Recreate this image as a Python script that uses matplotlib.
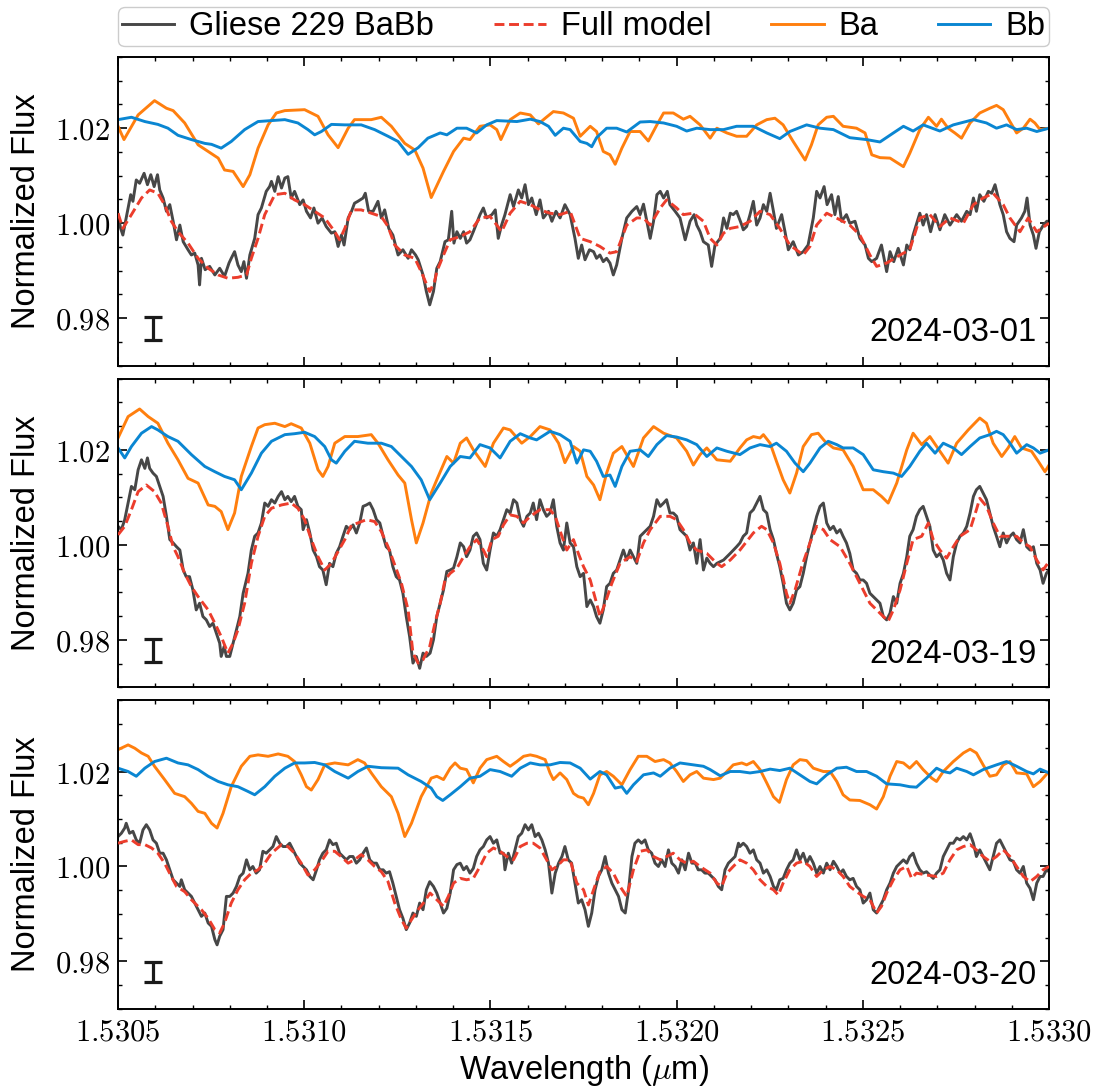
import matplotlib
matplotlib.use("Agg")
import matplotlib.pyplot as plt
from matplotlib.ticker import MultipleLocator, FuncFormatter

plt.rcParams['font.family'] = ['Liberation Sans', 'DejaVu Sans']
plt.rcParams['mathtext.fontset'] = 'cm'

# ---------------- data: panel 1 (2024-03-01) ----------------
obs_wl_1 = [1.530500,1.530507,1.530513,1.530522,1.530534,1.530540,1.530549,1.530558,1.530570,1.530579,1.530588,1.530597,1.530606,1.530612,1.530621,1.530630,1.530639,1.530648,1.530657,1.530666,1.530675,1.530688,1.530697,1.530706,1.530715,1.530719,1.530724,1.530734,1.530746,1.530760,1.530773,1.530786,1.530798,1.530804,1.530813,1.530822,1.530831,1.530838,1.530845,1.530854,1.530867,1.530876,1.530885,1.530898,1.530907,1.530912,1.530921,1.530930,1.530939,1.530948,1.530956,1.530965,1.530974,1.530988,1.530997,1.531006,1.531017,1.531026,1.531037,1.531048,1.531059,1.531073,1.531082,1.531091,1.531100,1.531107,1.531118,1.531127,1.531135,1.531144,1.531158,1.531164,1.531173,1.531185,1.531198,1.531207,1.531216,1.531227,1.531238,1.531252,1.531265,1.531279,1.531288,1.531299,1.531306,1.531319,1.531328,1.531337,1.531347,1.531356,1.531365,1.531378,1.531387,1.531396,1.531402,1.531410,1.531419,1.531428,1.531436,1.531445,1.531454,1.531472,1.531481,1.531490,1.531504,1.531513,1.531521,1.531530,1.531539,1.531553,1.531562,1.531575,1.531584,1.531593,1.531602,1.531611,1.531623,1.531633,1.531642,1.531656,1.531665,1.531676,1.531687,1.531700,1.531714,1.531727,1.531736,1.531745,1.531754,1.531766,1.531777,1.531785,1.531794,1.531803,1.531812,1.531821,1.531830,1.531839,1.531853,1.531866,1.531880,1.531893,1.531902,1.531911,1.531920,1.531929,1.531938,1.531947,1.531956,1.531965,1.531975,1.531982,1.531996,1.532009,1.532023,1.532036,1.532047,1.532054,1.532063,1.532072,1.532085,1.532094,1.532103,1.532117,1.532126,1.532135,1.532144,1.532152,1.532161,1.532175,1.532179,1.532188,1.532197,1.532206,1.532215,1.532224,1.532233,1.532242,1.532251,1.532260,1.532268,1.532282,1.532291,1.532300,1.532313,1.532327,1.532340,1.532353,1.532367,1.532376,1.532385,1.532396,1.532404,1.532416,1.532425,1.532434,1.532443,1.532456,1.532465,1.532479,1.532492,1.532506,1.532515,1.532524,1.532537,1.532550,1.532564,1.532573,1.532583,1.532595,1.532609,1.532618,1.532626,1.532635,1.532653,1.532662,1.532671,1.532682,1.532694,1.532707,1.532720,1.532734,1.532752,1.532765,1.532779,1.532788,1.532797,1.532805,1.532814,1.532825,1.532837,1.532846,1.532855,1.532868,1.532877,1.532886,1.532895,1.532906,1.532913,1.532926,1.532935,1.532941,1.532949,1.532958,1.532965,1.532974,1.532985,1.532994,1.533000]
obs_fx_1 = [1.0018,0.9989,0.9975,1.0011,1.0060,1.0046,1.0091,1.0084,1.0105,1.0081,1.0102,1.0077,1.0102,1.0070,1.0053,1.0025,1.0039,1.0004,0.9965,0.9996,0.9961,0.9944,0.9933,0.9937,0.9912,0.9870,0.9926,0.9902,0.9909,0.9891,0.9905,0.9888,0.9916,0.9926,0.9940,0.9912,0.9898,0.9919,0.9884,0.9933,0.9968,1.0018,1.0032,1.0067,1.0077,1.0088,1.0067,1.0098,1.0074,1.0095,1.0098,1.0053,1.0067,1.0039,1.0049,1.0025,1.0011,1.0032,1.0000,1.0011,0.9993,0.9979,0.9982,0.9951,0.9975,0.9954,1.0011,1.0025,1.0042,1.0046,1.0053,1.0063,1.0025,1.0025,1.0046,1.0011,1.0028,0.9989,0.9975,0.9933,0.9944,0.9926,0.9944,0.9933,0.9923,0.9891,0.9856,0.9828,0.9856,0.9905,0.9919,0.9961,0.9965,1.0025,0.9958,0.9982,0.9968,0.9982,0.9958,0.9965,0.9982,1.0018,1.0032,1.0011,1.0018,1.0028,0.9968,0.9996,1.0018,1.0060,1.0035,1.0070,1.0053,1.0081,1.0039,1.0053,1.0018,1.0049,1.0011,1.0025,1.0004,1.0025,1.0011,1.0039,1.0018,0.9968,0.9926,0.9954,0.9923,0.9944,0.9940,0.9926,0.9933,0.9919,0.9926,0.9916,0.9891,0.9912,0.9968,1.0011,1.0025,1.0035,1.0018,1.0040,1.0004,0.9968,1.0004,1.0060,1.0067,1.0053,1.0067,1.0039,1.0025,1.0011,0.9965,1.0004,1.0018,0.9996,0.9982,0.9961,0.9954,0.9909,0.9954,0.9968,1.0011,0.9989,1.0021,1.0018,1.0025,0.9996,0.9986,0.9993,1.0018,1.0046,0.9996,1.0011,1.0039,1.0025,1.0063,1.0025,0.9989,1.0018,0.9982,0.9944,0.9961,0.9933,0.9940,0.9954,1.0011,1.0067,1.0053,1.0077,1.0039,1.0060,1.0018,1.0056,1.0004,1.0018,1.0000,1.0004,0.9968,0.9954,0.9926,0.9919,0.9926,0.9954,0.9898,0.9940,0.9919,0.9947,0.9912,0.9954,0.9944,0.9975,1.0021,0.9996,1.0018,0.9982,1.0018,0.9986,1.0018,0.9996,1.0018,1.0004,1.0025,1.0018,1.0053,1.0025,1.0060,1.0046,1.0067,1.0063,1.0081,1.0039,1.0018,0.9982,0.9968,0.9961,0.9996,1.0011,1.0025,1.0053,0.9996,0.9975,0.9947,0.9982,0.9996,1.0004,1.0004]

mod_wl_1 = [1.530500,1.530513,1.530536,1.530563,1.530585,1.530607,1.530625,1.530643,1.530661,1.530688,1.530715,1.530742,1.530769,1.530795,1.530822,1.530845,1.530858,1.530876,1.530894,1.530921,1.530948,1.530974,1.531001,1.531028,1.531055,1.531082,1.531095,1.531109,1.531127,1.531153,1.531180,1.531207,1.531225,1.531243,1.531270,1.531297,1.531314,1.531337,1.531350,1.531356,1.531374,1.531392,1.531419,1.531445,1.531472,1.531499,1.531517,1.531530,1.531553,1.531580,1.531607,1.531633,1.531660,1.531687,1.531714,1.531741,1.531768,1.531794,1.531821,1.531839,1.531866,1.531893,1.531911,1.531929,1.531956,1.531973,1.532000,1.532018,1.532045,1.532072,1.532090,1.532108,1.532126,1.532144,1.532170,1.532197,1.532224,1.532251,1.532277,1.532304,1.532340,1.532358,1.532376,1.532403,1.532439,1.532465,1.532492,1.532519,1.532537,1.532564,1.532600,1.532626,1.532653,1.532680,1.532707,1.532734,1.532770,1.532797,1.532823,1.532850,1.532877,1.532895,1.532922,1.532944,1.532967,1.533000]
mod_fx_1 = [1.0021,0.9989,1.0018,1.0053,1.0070,1.0063,1.0039,1.0004,0.9982,0.9958,0.9926,0.9905,0.9891,0.9884,0.9886,0.9891,0.9926,0.9968,1.0018,1.0060,1.0063,1.0049,1.0039,1.0025,1.0011,0.9982,0.9965,0.9989,1.0028,1.0028,1.0021,1.0014,0.9993,0.9954,0.9933,0.9926,0.9898,0.9856,0.9877,0.9898,0.9933,0.9965,0.9972,0.9982,1.0011,1.0014,0.9996,0.9982,1.0021,1.0046,1.0039,1.0028,1.0021,1.0018,1.0025,0.9968,0.9961,0.9951,0.9937,0.9940,0.9996,1.0011,1.0011,0.9996,1.0032,1.0049,1.0032,1.0018,1.0021,1.0004,0.9968,0.9954,0.9979,0.9989,0.9993,1.0004,1.0025,1.0018,0.9989,0.9954,0.9933,0.9951,0.9996,1.0021,1.0007,0.9996,0.9975,0.9933,0.9909,0.9916,0.9933,0.9944,1.0011,1.0018,0.9993,1.0011,1.0000,1.0039,1.0053,1.0063,1.0039,1.0011,0.9982,1.0011,0.9982,1.0000]

ba_wl_1 = [1.530500,1.530516,1.530554,1.530598,1.530630,1.530648,1.530679,1.530715,1.530742,1.530769,1.530786,1.530809,1.530836,1.530854,1.530876,1.530903,1.530925,1.530948,1.531001,1.531037,1.531064,1.531091,1.531118,1.531135,1.531180,1.531207,1.531234,1.531270,1.531297,1.531319,1.531341,1.531374,1.531401,1.531428,1.531445,1.531472,1.531499,1.531517,1.531528,1.531553,1.531580,1.531607,1.531629,1.531647,1.531669,1.531696,1.531723,1.531741,1.531768,1.531785,1.531803,1.531821,1.531835,1.531853,1.531875,1.531902,1.531924,1.531947,1.531965,1.531991,1.532018,1.532036,1.532063,1.532090,1.532108,1.532135,1.532161,1.532188,1.532215,1.532242,1.532264,1.532286,1.532313,1.532345,1.532362,1.532380,1.532403,1.532421,1.532447,1.532483,1.532506,1.532524,1.532546,1.532573,1.532591,1.532609,1.532626,1.532653,1.532676,1.532698,1.532711,1.532729,1.532747,1.532765,1.532788,1.532814,1.532841,1.532859,1.532877,1.532895,1.532913,1.532931,1.532949,1.532962,1.532976,1.533000]
ba_fx_1 = [1.0204,1.0176,1.0228,1.0258,1.0242,1.0237,1.0211,1.0165,1.0151,1.0137,1.0112,1.0109,1.0077,1.0102,1.0158,1.0207,1.0232,1.0237,1.0239,1.0225,1.0186,1.0159,1.0200,1.0218,1.0218,1.0223,1.0204,1.0168,1.0154,1.0116,1.0054,1.0109,1.0151,1.0179,1.0176,1.0204,1.0207,1.0197,1.0176,1.0218,1.0232,1.0228,1.0209,1.0221,1.0235,1.0232,1.0221,1.0183,1.0204,1.0193,1.0151,1.0144,1.0124,1.0158,1.0193,1.0193,1.0173,1.0207,1.0232,1.0232,1.0219,1.0225,1.0207,1.0179,1.0200,1.0190,1.0183,1.0183,1.0207,1.0218,1.0221,1.0207,1.0172,1.0133,1.0165,1.0207,1.0223,1.0225,1.0204,1.0200,1.0190,1.0144,1.0138,1.0137,1.0128,1.0119,1.0147,1.0197,1.0223,1.0204,1.0219,1.0200,1.0190,1.0179,1.0211,1.0232,1.0242,1.0248,1.0239,1.0214,1.0190,1.0200,1.0219,1.0211,1.0197,1.0200]

bb_wl_1 = [1.530500,1.530536,1.530572,1.530607,1.530634,1.530661,1.530697,1.530733,1.530751,1.530777,1.530804,1.530840,1.530876,1.530912,1.530948,1.530983,1.531010,1.531028,1.531046,1.531073,1.531109,1.531153,1.531189,1.531225,1.531252,1.531279,1.531306,1.531332,1.531365,1.531383,1.531410,1.531436,1.531463,1.531490,1.531517,1.531571,1.531607,1.531633,1.531656,1.531674,1.531696,1.531714,1.531741,1.531759,1.531772,1.531785,1.531812,1.531839,1.531866,1.531902,1.531929,1.531965,1.532000,1.532027,1.532054,1.532090,1.532126,1.532161,1.532206,1.532242,1.532277,1.532304,1.532349,1.532385,1.532421,1.532465,1.532510,1.532546,1.532582,1.532609,1.532635,1.532662,1.532707,1.532743,1.532797,1.532832,1.532859,1.532886,1.532913,1.532940,1.532967,1.533000]
bb_fx_1 = [1.0218,1.0223,1.0214,1.0208,1.0200,1.0185,1.0176,1.0168,1.0166,1.0158,1.0172,1.0197,1.0214,1.0216,1.0218,1.0211,1.0197,1.0186,1.0193,1.0208,1.0207,1.0207,1.0197,1.0183,1.0172,1.0145,1.0159,1.0179,1.0190,1.0186,1.0200,1.0200,1.0190,1.0207,1.0216,1.0214,1.0219,1.0214,1.0204,1.0185,1.0200,1.0197,1.0172,1.0168,1.0161,1.0180,1.0200,1.0200,1.0192,1.0213,1.0214,1.0211,1.0204,1.0194,1.0200,1.0197,1.0197,1.0204,1.0204,1.0190,1.0178,1.0193,1.0207,1.0200,1.0197,1.0180,1.0176,1.0171,1.0190,1.0204,1.0194,1.0207,1.0194,1.0207,1.0218,1.0211,1.0200,1.0207,1.0197,1.0200,1.0193,1.0200]

# ---------------- data: panel 2 (2024-03-19) ----------------
obs_wl_2 = [1.530500,1.530509,1.530518,1.530527,1.530536,1.530545,1.530554,1.530563,1.530572,1.530579,1.530585,1.530594,1.530603,1.530612,1.530621,1.530630,1.530639,1.530648,1.530657,1.530666,1.530675,1.530683,1.530692,1.530701,1.530710,1.530719,1.530728,1.530737,1.530746,1.530755,1.530764,1.530773,1.530777,1.530785,1.530791,1.530800,1.530809,1.530818,1.530827,1.530836,1.530849,1.530858,1.530867,1.530876,1.530885,1.530894,1.530903,1.530912,1.530921,1.530930,1.530939,1.530948,1.530956,1.530965,1.530974,1.530983,1.530992,1.530997,1.531006,1.531015,1.531024,1.531033,1.531041,1.531050,1.531059,1.531068,1.531077,1.531086,1.531095,1.531104,1.531113,1.531122,1.531131,1.531140,1.531149,1.531158,1.531167,1.531176,1.531185,1.531194,1.531203,1.531212,1.531220,1.531229,1.531238,1.531247,1.531256,1.531265,1.531274,1.531283,1.531292,1.531301,1.531310,1.531319,1.531328,1.531338,1.531347,1.531356,1.531365,1.531374,1.531383,1.531392,1.531401,1.531410,1.531419,1.531428,1.531436,1.531445,1.531454,1.531463,1.531472,1.531481,1.531490,1.531499,1.531508,1.531517,1.531526,1.531535,1.531544,1.531553,1.531562,1.531571,1.531580,1.531589,1.531598,1.531607,1.531615,1.531624,1.531633,1.531642,1.531651,1.531660,1.531669,1.531678,1.531687,1.531696,1.531705,1.531714,1.531723,1.531732,1.531741,1.531750,1.531759,1.531768,1.531777,1.531785,1.531794,1.531803,1.531812,1.531821,1.531830,1.531839,1.531848,1.531857,1.531866,1.531875,1.531884,1.531893,1.531902,1.531911,1.531920,1.531929,1.531938,1.531947,1.531956,1.531965,1.531973,1.531982,1.531991,1.532000,1.532009,1.532018,1.532027,1.532036,1.532045,1.532054,1.532063,1.532072,1.532081,1.532090,1.532099,1.532108,1.532126,1.532144,1.532161,1.532170,1.532179,1.532188,1.532197,1.532206,1.532215,1.532224,1.532233,1.532242,1.532251,1.532260,1.532268,1.532277,1.532286,1.532295,1.532304,1.532313,1.532322,1.532331,1.532340,1.532349,1.532358,1.532367,1.532376,1.532385,1.532394,1.532403,1.532412,1.532421,1.532430,1.532439,1.532447,1.532456,1.532465,1.532474,1.532483,1.532492,1.532501,1.532510,1.532519,1.532528,1.532537,1.532546,1.532555,1.532564,1.532573,1.532582,1.532591,1.532600,1.532609,1.532618,1.532626,1.532635,1.532644,1.532653,1.532662,1.532671,1.532680,1.532689,1.532698,1.532707,1.532716,1.532725,1.532734,1.532743,1.532752,1.532761,1.532770,1.532779,1.532788,1.532797,1.532805,1.532814,1.532823,1.532832,1.532841,1.532850,1.532859,1.532868,1.532877,1.532886,1.532895,1.532904,1.532913,1.532922,1.532931,1.532940,1.532949,1.532958,1.532967,1.532976,1.532984,1.532993,1.533000]
obs_fx_2 = [1.0039,1.0032,1.0053,1.0088,1.0123,1.0116,1.0158,1.0179,1.0161,1.0183,1.0161,1.0151,1.0144,1.0123,1.0102,1.0060,1.0011,1.0004,0.9996,0.9989,0.9947,0.9933,0.9933,0.9905,0.9863,0.9877,0.9849,0.9842,0.9828,0.9835,0.9814,0.9793,0.9765,0.9786,0.9765,0.9765,0.9793,0.9821,0.9849,0.9898,0.9940,0.9989,1.0018,1.0025,1.0046,1.0088,1.0081,1.0095,1.0088,1.0102,1.0112,1.0095,1.0102,1.0091,1.0102,1.0081,1.0074,1.0032,1.0053,1.0025,0.9989,0.9975,0.9954,0.9947,0.9916,0.9961,0.9954,0.9982,0.9996,1.0018,1.0039,1.0032,1.0042,1.0025,1.0046,1.0081,1.0084,1.0088,1.0074,1.0053,1.0046,1.0018,0.9996,0.9989,0.9954,0.9933,0.9926,0.9898,0.9849,0.9807,0.9751,0.9765,0.9740,0.9772,0.9765,0.9772,0.9800,0.9849,0.9877,0.9905,0.9944,0.9947,0.9951,0.9975,1.0004,0.9996,0.9975,0.9989,1.0018,1.0025,1.0011,0.9961,0.9947,0.9989,1.0025,1.0018,1.0032,1.0053,1.0074,1.0067,1.0095,1.0088,1.0053,1.0039,1.0060,1.0067,1.0088,1.0053,1.0095,1.0074,1.0060,1.0067,1.0095,1.0039,1.0004,0.9989,1.0046,1.0004,0.9996,0.9954,0.9933,0.9940,0.9870,0.9884,0.9870,0.9849,0.9835,0.9863,0.9912,0.9919,0.9940,0.9947,0.9968,0.9989,0.9968,0.9989,0.9975,0.9961,1.0018,1.0025,1.0032,1.0039,1.0060,1.0095,1.0081,1.0088,1.0095,1.0067,1.0067,1.0060,1.0032,1.0025,1.0018,0.9989,1.0004,0.9961,1.0011,0.9947,0.9972,0.9961,0.9954,0.9961,0.9968,0.9982,0.9996,1.0004,1.0018,1.0025,1.0067,1.0074,1.0088,1.0102,1.0074,1.0067,1.0032,1.0011,0.9982,0.9954,0.9919,0.9877,0.9863,0.9877,0.9905,0.9912,0.9940,0.9975,1.0004,1.0032,1.0060,1.0081,1.0088,1.0046,1.0032,1.0039,1.0025,1.0032,1.0018,1.0004,0.9982,0.9947,0.9940,0.9926,0.9926,0.9919,0.9898,0.9891,0.9884,0.9877,0.9849,0.9842,0.9856,0.9891,0.9877,0.9919,0.9940,0.9975,1.0018,1.0032,1.0060,1.0074,1.0081,1.0060,1.0039,0.9989,0.9975,0.9982,0.9968,0.9940,0.9926,0.9975,1.0004,1.0018,1.0025,1.0039,1.0067,1.0102,1.0116,1.0123,1.0109,1.0095,1.0067,1.0039,1.0018,0.9996,1.0025,1.0004,1.0018,1.0025,1.0011,1.0004,1.0032,0.9996,0.9989,0.9996,0.9961,0.9947,0.9919,0.9940,0.9947]

mod_wl_2 = [1.530500,1.530518,1.530536,1.530554,1.530576,1.530598,1.530616,1.530634,1.530648,1.530661,1.530679,1.530697,1.530715,1.530742,1.530760,1.530777,1.530795,1.530809,1.530822,1.530840,1.530858,1.530876,1.530894,1.530912,1.530939,1.530965,1.530983,1.531001,1.531019,1.531037,1.531055,1.531073,1.531091,1.531109,1.531127,1.531144,1.531167,1.531189,1.531207,1.531225,1.531243,1.531261,1.531279,1.531292,1.531306,1.531319,1.531337,1.531351,1.531365,1.531378,1.531392,1.531410,1.531428,1.531445,1.531463,1.531481,1.531490,1.531504,1.531521,1.531535,1.531553,1.531571,1.531589,1.531607,1.531633,1.531660,1.531674,1.531692,1.531705,1.531723,1.531736,1.531750,1.531768,1.531785,1.531794,1.531808,1.531826,1.531848,1.531875,1.531893,1.531911,1.531929,1.531956,1.531982,1.532000,1.532018,1.532036,1.532054,1.532081,1.532108,1.532121,1.532144,1.532170,1.532188,1.532206,1.532228,1.532242,1.532260,1.532277,1.532295,1.532304,1.532318,1.532336,1.532358,1.532376,1.532394,1.532412,1.532439,1.532465,1.532492,1.532519,1.532546,1.532568,1.532582,1.532600,1.532618,1.532635,1.532658,1.532676,1.532689,1.532707,1.532725,1.532743,1.532761,1.532788,1.532805,1.532814,1.532832,1.532850,1.532868,1.532886,1.532913,1.532931,1.532949,1.532967,1.532984,1.533000]
mod_fx_2 = [1.0021,1.0039,1.0074,1.0112,1.0126,1.0112,1.0088,1.0039,0.9996,0.9975,0.9940,0.9912,0.9891,0.9863,0.9835,0.9807,0.9772,0.9793,0.9821,0.9877,0.9961,1.0018,1.0060,1.0077,1.0084,1.0088,1.0077,1.0053,1.0011,0.9975,0.9947,0.9961,0.9986,1.0011,1.0042,1.0046,1.0053,1.0049,1.0028,0.9996,0.9958,0.9919,0.9863,0.9772,0.9751,0.9758,0.9786,0.9835,0.9877,0.9926,0.9940,0.9951,0.9975,0.9996,1.0011,0.9989,0.9975,1.0011,1.0018,1.0042,1.0063,1.0060,1.0046,1.0060,1.0074,1.0074,1.0060,1.0018,0.9989,1.0011,0.9982,0.9954,0.9926,0.9877,0.9849,0.9877,0.9919,0.9961,0.9975,0.9965,1.0004,1.0032,1.0060,1.0060,1.0053,1.0032,1.0004,0.9989,0.9982,0.9961,0.9954,0.9968,0.9989,1.0007,1.0025,1.0039,1.0032,1.0004,0.9961,0.9898,0.9877,0.9905,0.9954,1.0004,1.0039,1.0032,1.0011,0.9996,0.9961,0.9919,0.9877,0.9856,0.9839,0.9863,0.9905,0.9961,1.0011,1.0018,1.0046,1.0011,0.9989,0.9972,0.9996,1.0018,1.0032,1.0074,1.0098,1.0081,1.0046,1.0018,1.0018,1.0018,1.0004,0.9996,0.9968,0.9947,0.9965]

ba_wl_2 = [1.530500,1.530527,1.530558,1.530581,1.530607,1.530634,1.530661,1.530688,1.530715,1.530742,1.530760,1.530777,1.530795,1.530813,1.530831,1.530858,1.530876,1.530894,1.530921,1.530948,1.530965,1.530992,1.531015,1.531037,1.531050,1.531064,1.531082,1.531109,1.531144,1.531180,1.531198,1.531225,1.531252,1.531270,1.531288,1.531301,1.531319,1.531341,1.531356,1.531383,1.531401,1.531419,1.531436,1.531454,1.531486,1.531508,1.531535,1.531553,1.531584,1.531607,1.531633,1.531660,1.531683,1.531700,1.531723,1.531741,1.531759,1.531777,1.531794,1.531812,1.531830,1.531853,1.531884,1.531911,1.531938,1.531965,1.532000,1.532027,1.532045,1.532063,1.532081,1.532108,1.532144,1.532170,1.532188,1.532206,1.532224,1.532233,1.532251,1.532268,1.532286,1.532304,1.532322,1.532340,1.532362,1.532380,1.532398,1.532421,1.532447,1.532474,1.532501,1.532528,1.532550,1.532568,1.532591,1.532618,1.532635,1.532658,1.532680,1.532707,1.532729,1.532752,1.532783,1.532814,1.532832,1.532850,1.532873,1.532890,1.532908,1.532926,1.532953,1.532971,1.532989,1.533000]
ba_fx_2 = [1.0225,1.0270,1.0286,1.0270,1.0256,1.0214,1.0179,1.0140,1.0130,1.0084,1.0081,1.0070,1.0032,1.0067,1.0144,1.0207,1.0246,1.0253,1.0256,1.0249,1.0255,1.0246,1.0214,1.0158,1.0144,1.0165,1.0214,1.0228,1.0228,1.0232,1.0214,1.0179,1.0147,1.0130,1.0053,1.0004,1.0046,1.0109,1.0137,1.0186,1.0172,1.0214,1.0225,1.0200,1.0165,1.0214,1.0246,1.0242,1.0214,1.0228,1.0249,1.0242,1.0214,1.0173,1.0207,1.0197,1.0144,1.0126,1.0095,1.0151,1.0193,1.0207,1.0165,1.0225,1.0249,1.0235,1.0225,1.0197,1.0168,1.0190,1.0204,1.0179,1.0176,1.0204,1.0221,1.0228,1.0225,1.0232,1.0214,1.0176,1.0137,1.0109,1.0151,1.0207,1.0232,1.0235,1.0218,1.0204,1.0200,1.0165,1.0116,1.0116,1.0102,1.0088,1.0130,1.0200,1.0235,1.0211,1.0228,1.0197,1.0172,1.0214,1.0242,1.0267,1.0256,1.0214,1.0186,1.0204,1.0228,1.0204,1.0197,1.0176,1.0154,1.0168]

bb_wl_2 = [1.530500,1.530518,1.530536,1.530563,1.530590,1.530607,1.530634,1.530661,1.530697,1.530733,1.530760,1.530786,1.530813,1.530831,1.530858,1.530885,1.530912,1.530948,1.530974,1.531001,1.531028,1.531055,1.531073,1.531086,1.531109,1.531135,1.531171,1.531207,1.531234,1.531261,1.531288,1.531314,1.531337,1.531365,1.531392,1.531419,1.531445,1.531472,1.531499,1.531526,1.531553,1.531580,1.531607,1.531624,1.531660,1.531687,1.531714,1.531732,1.531750,1.531768,1.531785,1.531803,1.531821,1.531835,1.531853,1.531875,1.531902,1.531924,1.531947,1.531973,1.532000,1.532027,1.532054,1.532081,1.532108,1.532135,1.532170,1.532197,1.532224,1.532251,1.532268,1.532295,1.532318,1.532340,1.532358,1.532385,1.532407,1.532430,1.532447,1.532474,1.532501,1.532528,1.532555,1.532582,1.532604,1.532626,1.532653,1.532671,1.532694,1.532716,1.532743,1.532765,1.532788,1.532814,1.532841,1.532859,1.532877,1.532895,1.532913,1.532940,1.532958,1.532976,1.533000]
bb_fx_2 = [1.0204,1.0183,1.0207,1.0235,1.0249,1.0242,1.0228,1.0218,1.0190,1.0165,1.0154,1.0144,1.0137,1.0116,1.0151,1.0193,1.0218,1.0232,1.0234,1.0237,1.0228,1.0207,1.0179,1.0172,1.0197,1.0218,1.0214,1.0214,1.0207,1.0186,1.0165,1.0137,1.0095,1.0130,1.0165,1.0186,1.0183,1.0211,1.0204,1.0183,1.0218,1.0234,1.0225,1.0221,1.0239,1.0232,1.0218,1.0172,1.0200,1.0197,1.0176,1.0144,1.0147,1.0123,1.0165,1.0197,1.0200,1.0186,1.0211,1.0230,1.0227,1.0221,1.0211,1.0186,1.0204,1.0197,1.0190,1.0204,1.0211,1.0207,1.0214,1.0197,1.0172,1.0154,1.0172,1.0204,1.0218,1.0211,1.0204,1.0204,1.0190,1.0158,1.0154,1.0151,1.0144,1.0165,1.0197,1.0214,1.0193,1.0214,1.0204,1.0190,1.0207,1.0225,1.0232,1.0239,1.0232,1.0214,1.0193,1.0211,1.0204,1.0193,1.0200]

# ---------------- data: panel 3 (2024-03-20) ----------------
obs_wl_3 = [1.530500,1.530509,1.530518,1.530522,1.530531,1.530540,1.530549,1.530558,1.530567,1.530576,1.530585,1.530594,1.530603,1.530612,1.530621,1.530630,1.530639,1.530648,1.530657,1.530666,1.530670,1.530679,1.530688,1.530697,1.530706,1.530715,1.530724,1.530733,1.530742,1.530751,1.530760,1.530766,1.530773,1.530782,1.530791,1.530800,1.530809,1.530818,1.530827,1.530836,1.530845,1.530854,1.530862,1.530871,1.530880,1.530889,1.530898,1.530907,1.530916,1.530925,1.530934,1.530943,1.530952,1.530961,1.530970,1.530979,1.530988,1.530997,1.531006,1.531015,1.531024,1.531033,1.531041,1.531050,1.531059,1.531068,1.531077,1.531086,1.531095,1.531104,1.531113,1.531122,1.531131,1.531140,1.531149,1.531158,1.531167,1.531176,1.531185,1.531194,1.531203,1.531212,1.531220,1.531229,1.531238,1.531247,1.531256,1.531265,1.531274,1.531283,1.531292,1.531301,1.531310,1.531319,1.531328,1.531337,1.531347,1.531356,1.531365,1.531374,1.531383,1.531392,1.531401,1.531410,1.531419,1.531428,1.531436,1.531445,1.531454,1.531463,1.531472,1.531481,1.531490,1.531499,1.531508,1.531517,1.531526,1.531535,1.531539,1.531548,1.531557,1.531566,1.531575,1.531584,1.531593,1.531602,1.531611,1.531620,1.531629,1.531638,1.531647,1.531656,1.531665,1.531674,1.531683,1.531692,1.531700,1.531709,1.531718,1.531727,1.531736,1.531745,1.531754,1.531763,1.531772,1.531781,1.531790,1.531799,1.531808,1.531817,1.531826,1.531835,1.531844,1.531853,1.531862,1.531871,1.531880,1.531888,1.531897,1.531906,1.531915,1.531924,1.531933,1.531942,1.531951,1.531960,1.531969,1.531978,1.531987,1.531996,1.532005,1.532014,1.532023,1.532032,1.532041,1.532050,1.532058,1.532067,1.532076,1.532085,1.532094,1.532103,1.532112,1.532121,1.532130,1.532139,1.532148,1.532157,1.532166,1.532170,1.532179,1.532188,1.532197,1.532206,1.532215,1.532224,1.532233,1.532242,1.532251,1.532260,1.532268,1.532277,1.532286,1.532295,1.532304,1.532313,1.532322,1.532331,1.532340,1.532349,1.532358,1.532367,1.532376,1.532385,1.532394,1.532403,1.532412,1.532421,1.532430,1.532439,1.532447,1.532456,1.532465,1.532474,1.532483,1.532492,1.532501,1.532510,1.532519,1.532528,1.532537,1.532546,1.532555,1.532564,1.532573,1.532582,1.532591,1.532600,1.532609,1.532618,1.532626,1.532635,1.532644,1.532653,1.532662,1.532671,1.532680,1.532689,1.532698,1.532707,1.532716,1.532725,1.532734,1.532743,1.532752,1.532761,1.532770,1.532779,1.532788,1.532797,1.532805,1.532814,1.532823,1.532832,1.532841,1.532850,1.532859,1.532868,1.532877,1.532886,1.532895,1.532904,1.532913,1.532922,1.532931,1.532940,1.532949,1.532958,1.532967,1.532976,1.532984,1.532993,1.533000]
obs_fx_3 = [1.0063,1.0070,1.0081,1.0091,1.0070,1.0074,1.0056,1.0049,1.0077,1.0088,1.0077,1.0056,1.0049,1.0028,1.0028,1.0014,0.9993,0.9972,0.9965,0.9958,0.9972,0.9951,0.9944,0.9937,0.9923,0.9909,0.9895,0.9902,0.9881,0.9874,0.9846,0.9835,0.9853,0.9867,0.9937,0.9937,0.9944,0.9958,0.9979,0.9986,1.0014,0.9993,1.0000,0.9986,0.9993,1.0032,1.0028,1.0035,1.0042,1.0063,1.0049,1.0042,1.0042,1.0049,1.0035,1.0021,1.0007,1.0000,0.9993,0.9979,0.9972,0.9993,1.0014,1.0028,1.0035,1.0056,1.0046,1.0049,1.0028,1.0021,1.0014,1.0021,1.0021,1.0007,1.0014,1.0028,1.0039,1.0014,1.0007,1.0007,0.9993,0.9993,0.9986,0.9989,0.9965,0.9937,0.9909,0.9891,0.9867,0.9881,0.9902,0.9895,0.9923,0.9909,0.9951,0.9968,0.9958,0.9944,0.9923,0.9902,0.9912,0.9944,0.9993,1.0004,1.0007,0.9993,1.0000,0.9986,0.9996,1.0021,1.0035,1.0042,1.0056,1.0063,1.0049,1.0056,1.0028,1.0028,0.9993,1.0028,1.0007,1.0035,1.0063,1.0070,1.0088,1.0077,1.0088,1.0063,1.0070,1.0056,1.0035,1.0007,0.9944,0.9986,1.0007,1.0021,1.0042,1.0014,1.0007,0.9965,0.9923,0.9930,0.9909,0.9874,0.9902,0.9951,0.9979,0.9993,1.0021,0.9986,0.9965,0.9951,0.9937,0.9909,0.9902,0.9951,1.0021,1.0049,1.0056,1.0049,1.0056,1.0035,1.0028,1.0007,1.0000,1.0014,1.0000,1.0035,1.0007,1.0000,0.9986,1.0014,0.9993,1.0028,1.0007,1.0007,0.9993,0.9993,0.9986,0.9986,0.9979,0.9972,0.9958,0.9951,0.9993,1.0007,1.0014,1.0021,1.0049,1.0042,1.0049,1.0042,1.0028,1.0035,1.0014,1.0007,0.9986,0.9993,0.9979,0.9958,0.9951,0.9972,0.9975,0.9993,1.0007,1.0014,1.0035,1.0014,1.0028,1.0007,1.0021,1.0007,0.9986,1.0000,0.9986,1.0007,0.9993,1.0011,1.0000,0.9986,0.9993,0.9979,0.9972,0.9975,0.9958,0.9951,0.9923,0.9930,0.9944,0.9909,0.9902,0.9916,0.9930,0.9951,0.9965,0.9986,1.0000,1.0007,1.0014,1.0007,1.0021,1.0028,1.0007,0.9993,0.9986,0.9989,0.9982,0.9975,0.9986,0.9993,1.0021,1.0035,1.0049,1.0049,1.0060,1.0056,1.0063,1.0056,1.0069,1.0049,1.0021,1.0035,1.0021,1.0007,0.9993,1.0021,1.0049,1.0056,1.0042,1.0028,1.0014,1.0011,0.9993,0.9986,1.0000,0.9965,0.9954,0.9930,0.9965,0.9979,0.9979,0.9993,0.9989]

mod_wl_3 = [1.530500,1.530518,1.530536,1.530554,1.530572,1.530590,1.530607,1.530625,1.530643,1.530657,1.530679,1.530697,1.530724,1.530742,1.530760,1.530773,1.530786,1.530804,1.530822,1.530840,1.530858,1.530876,1.530894,1.530912,1.530939,1.530956,1.530974,1.530992,1.531010,1.531028,1.531046,1.531064,1.531082,1.531099,1.531118,1.531135,1.531153,1.531171,1.531189,1.531207,1.531225,1.531243,1.531261,1.531274,1.531288,1.531306,1.531323,1.531338,1.531356,1.531374,1.531387,1.531401,1.531419,1.531436,1.531454,1.531472,1.531490,1.531508,1.531526,1.531544,1.531562,1.531580,1.531598,1.531615,1.531633,1.531651,1.531665,1.531678,1.531696,1.531714,1.531732,1.531750,1.531763,1.531777,1.531794,1.531812,1.531830,1.531848,1.531866,1.531884,1.531902,1.531920,1.531938,1.531956,1.531973,1.531991,1.532009,1.532027,1.532045,1.532063,1.532090,1.532108,1.532121,1.532135,1.532152,1.532170,1.532188,1.532206,1.532224,1.532242,1.532260,1.532273,1.532286,1.532304,1.532322,1.532340,1.532358,1.532376,1.532394,1.532412,1.532430,1.532447,1.532465,1.532483,1.532501,1.532519,1.532537,1.532550,1.532564,1.532582,1.532600,1.532618,1.532631,1.532644,1.532671,1.532698,1.532716,1.532734,1.532752,1.532770,1.532788,1.532805,1.532823,1.532841,1.532859,1.532877,1.532895,1.532913,1.532931,1.532949,1.532967,1.532984,1.533000]
mod_fx_3 = [1.0049,1.0053,1.0056,1.0046,1.0046,1.0039,1.0028,1.0007,0.9979,0.9958,0.9947,0.9930,0.9909,0.9891,0.9867,0.9860,0.9881,0.9923,0.9951,0.9972,0.9986,0.9993,1.0007,1.0028,1.0046,1.0042,1.0028,1.0007,0.9982,0.9993,1.0011,1.0032,1.0032,1.0021,1.0007,1.0014,1.0025,1.0014,1.0000,0.9989,0.9968,0.9923,0.9888,0.9870,0.9888,0.9909,0.9926,0.9944,0.9930,0.9916,0.9937,0.9965,0.9975,0.9972,0.9975,1.0000,1.0028,1.0039,1.0032,1.0021,1.0014,1.0042,1.0049,1.0049,1.0039,1.0014,0.9993,1.0000,1.0014,1.0014,0.9965,0.9951,0.9919,0.9951,0.9989,1.0000,0.9986,0.9958,0.9937,0.9993,1.0032,1.0035,1.0021,1.0014,1.0021,1.0028,1.0014,1.0007,1.0011,1.0000,0.9986,0.9965,0.9958,0.9986,1.0000,1.0014,1.0007,0.9993,0.9972,0.9958,0.9951,0.9940,0.9965,0.9993,1.0007,1.0011,1.0000,0.9979,0.9993,1.0000,0.9993,0.9979,0.9958,0.9947,0.9937,0.9930,0.9902,0.9916,0.9944,0.9972,0.9993,1.0000,0.9975,0.9986,0.9982,0.9979,0.9986,1.0014,1.0035,1.0042,1.0046,1.0035,1.0021,1.0011,1.0021,1.0035,1.0021,1.0000,0.9979,0.9968,0.9979,0.9993,1.0000]

ba_wl_3 = [1.530500,1.530527,1.530545,1.530563,1.530581,1.530598,1.530625,1.530652,1.530679,1.530697,1.530715,1.530733,1.530751,1.530766,1.530782,1.530804,1.530831,1.530854,1.530876,1.530903,1.530930,1.530956,1.530974,1.530992,1.531006,1.531019,1.531037,1.531055,1.531082,1.531118,1.531144,1.531162,1.531180,1.531207,1.531234,1.531252,1.531270,1.531288,1.531314,1.531341,1.531356,1.531374,1.531392,1.531405,1.531419,1.531436,1.531454,1.531472,1.531490,1.531517,1.531535,1.531553,1.531571,1.531589,1.531607,1.531624,1.531647,1.531660,1.531669,1.531687,1.531705,1.531723,1.531736,1.531750,1.531763,1.531777,1.531794,1.531812,1.531830,1.531853,1.531875,1.531897,1.531920,1.531942,1.531965,1.531982,1.532000,1.532018,1.532036,1.532054,1.532072,1.532099,1.532117,1.532135,1.532152,1.532175,1.532188,1.532206,1.532224,1.532242,1.532260,1.532276,1.532295,1.532313,1.532331,1.532349,1.532367,1.532394,1.532412,1.532430,1.532447,1.532465,1.532492,1.532519,1.532537,1.532555,1.532573,1.532591,1.532609,1.532626,1.532644,1.532662,1.532685,1.532698,1.532716,1.532743,1.532770,1.532788,1.532805,1.532823,1.532841,1.532859,1.532877,1.532895,1.532913,1.532940,1.532958,1.532976,1.533000]
ba_fx_3 = [1.0246,1.0256,1.0249,1.0239,1.0232,1.0211,1.0183,1.0154,1.0147,1.0133,1.0116,1.0112,1.0091,1.0081,1.0112,1.0168,1.0211,1.0232,1.0235,1.0232,1.0237,1.0232,1.0221,1.0193,1.0168,1.0161,1.0183,1.0214,1.0218,1.0214,1.0225,1.0218,1.0197,1.0168,1.0147,1.0112,1.0063,1.0091,1.0147,1.0186,1.0190,1.0183,1.0207,1.0218,1.0207,1.0204,1.0176,1.0207,1.0225,1.0232,1.0221,1.0211,1.0221,1.0232,1.0235,1.0232,1.0225,1.0197,1.0183,1.0197,1.0183,1.0154,1.0147,1.0144,1.0130,1.0154,1.0193,1.0200,1.0190,1.0172,1.0204,1.0232,1.0232,1.0221,1.0225,1.0218,1.0200,1.0179,1.0193,1.0200,1.0186,1.0183,1.0186,1.0200,1.0214,1.0218,1.0214,1.0221,1.0204,1.0176,1.0147,1.0135,1.0183,1.0214,1.0225,1.0223,1.0207,1.0200,1.0200,1.0179,1.0151,1.0140,1.0139,1.0130,1.0121,1.0147,1.0190,1.0221,1.0218,1.0207,1.0221,1.0204,1.0186,1.0179,1.0200,1.0221,1.0239,1.0247,1.0239,1.0214,1.0190,1.0193,1.0214,1.0221,1.0197,1.0195,1.0168,1.0179,1.0200]

bb_wl_3 = [1.530500,1.530527,1.530549,1.530572,1.530598,1.530630,1.530661,1.530688,1.530715,1.530742,1.530769,1.530795,1.530822,1.530849,1.530867,1.530894,1.530921,1.530948,1.530974,1.531001,1.531028,1.531055,1.531082,1.531118,1.531144,1.531171,1.531207,1.531252,1.531279,1.531314,1.531341,1.531356,1.531372,1.531392,1.531419,1.531445,1.531472,1.531499,1.531526,1.531557,1.531580,1.531607,1.531633,1.531660,1.531687,1.531714,1.531741,1.531768,1.531794,1.531812,1.531835,1.531853,1.531866,1.531884,1.531911,1.531938,1.531956,1.531982,1.532009,1.532045,1.532072,1.532090,1.532117,1.532144,1.532170,1.532197,1.532224,1.532251,1.532277,1.532304,1.532331,1.532358,1.532376,1.532403,1.532430,1.532456,1.532483,1.532510,1.532537,1.532564,1.532600,1.532626,1.532644,1.532671,1.532698,1.532716,1.532734,1.532752,1.532779,1.532797,1.532823,1.532859,1.532886,1.532913,1.532940,1.532958,1.532976,1.533000]
bb_fx_3 = [1.0207,1.0200,1.0190,1.0207,1.0221,1.0228,1.0218,1.0214,1.0204,1.0190,1.0179,1.0172,1.0168,1.0158,1.0151,1.0168,1.0190,1.0207,1.0218,1.0218,1.0219,1.0214,1.0200,1.0186,1.0200,1.0211,1.0208,1.0207,1.0193,1.0179,1.0165,1.0147,1.0139,1.0151,1.0168,1.0186,1.0190,1.0204,1.0200,1.0190,1.0207,1.0218,1.0214,1.0214,1.0219,1.0218,1.0207,1.0184,1.0200,1.0193,1.0165,1.0168,1.0154,1.0172,1.0193,1.0197,1.0190,1.0207,1.0218,1.0214,1.0211,1.0204,1.0191,1.0200,1.0200,1.0197,1.0200,1.0205,1.0202,1.0207,1.0193,1.0179,1.0174,1.0193,1.0207,1.0209,1.0200,1.0200,1.0190,1.0174,1.0172,1.0168,1.0167,1.0186,1.0207,1.0200,1.0197,1.0207,1.0200,1.0193,1.0204,1.0214,1.0221,1.0211,1.0200,1.0195,1.0205,1.0197]

dates = ['2024-03-01', '2024-03-19', '2024-03-20']
err_wl = [1.530594, 1.530594, 1.530594]
err_fx = [0.9779, 0.9777, 0.9777]
err_half = [0.0024, 0.0024, 0.0021]
labels = ['Gliese 229 BaBb', 'Full model', 'Ba', 'Bb']

panels = [
    (obs_wl_1, obs_fx_1, mod_wl_1, mod_fx_1, ba_wl_1, ba_fx_1, bb_wl_1, bb_fx_1),
    (obs_wl_2, obs_fx_2, mod_wl_2, mod_fx_2, ba_wl_2, ba_fx_2, bb_wl_2, bb_fx_2),
    (obs_wl_3, obs_fx_3, mod_wl_3, mod_fx_3, ba_wl_3, ba_fx_3, bb_wl_3, bb_fx_3),
]

C_OBS = '#474747'
C_MOD = '#ec3d2c'
C_BA = '#ff7f0e'
C_BB = '#0a86d2'
FS = 23.5
TFS = 22
LW = 2.1

fig, axes = plt.subplots(3, 1, figsize=(11.01, 10.89), dpi=100, sharex=True)
fig.subplots_adjust(left=0.1072, right=0.9528, top=0.9477, bottom=0.0735, hspace=0.042)

for i, ax in enumerate(axes):
    ow, of, mw, mf, aw, af, bw, bf = panels[i]
    l1, = ax.plot(ow, of, color=C_OBS, lw=LW, label=labels[0], zorder=2)
    l2, = ax.plot(mw, mf, color=C_MOD, lw=LW, ls=(0, (3.4, 1.6)), label=labels[1], zorder=3)
    l3, = ax.plot(aw, af, color=C_BA, lw=LW, label=labels[2], zorder=2)
    l4, = ax.plot(bw, bf, color=C_BB, lw=LW, label=labels[3], zorder=2)
    ax.errorbar([err_wl[i]], [err_fx[i]], yerr=[err_half[i]], color='#1a1a1a',
                capsize=6.5, elinewidth=2.3, capthick=2.3, zorder=4)
    ax.set_xlim(1.5305, 1.5330)
    ax.set_ylim(0.97, 1.035)
    ax.xaxis.set_major_locator(MultipleLocator(0.0005))
    ax.xaxis.set_minor_locator(MultipleLocator(0.0001))
    ax.yaxis.set_major_locator(MultipleLocator(0.02))
    ax.yaxis.set_minor_locator(MultipleLocator(0.005))
    ax.xaxis.set_major_formatter(FuncFormatter(lambda v, p: r'$%.4f$' % v))
    ax.yaxis.set_major_formatter(FuncFormatter(lambda v, p: r'$%.2f$' % v))
    ax.tick_params(which='both', direction='in', top=True, right=True, labelsize=TFS)
    ax.tick_params(which='major', length=6.5, width=1.2, pad=6)
    ax.tick_params(which='minor', length=3.2, width=1.0)
    for sp in ax.spines.values():
        sp.set_linewidth(1.4)
    ax.set_ylabel('Normalized Flux', fontsize=FS, labelpad=9)
    ax.text(0.987, 0.08, dates[i], transform=ax.transAxes, ha='right', va='baseline',
            fontsize=FS)
    if i == 0:
        handles = [l1, l2, l3, l4]

axes[-1].set_xlabel(r'Wavelength ($\mu$m)', fontsize=FS, labelpad=4)

axes[0].legend(handles=handles, labels=labels, loc='lower left', ncol=4,
               bbox_to_anchor=(0.0, 1.035, 1.0, 0.1), mode='expand', borderaxespad=0,
               fontsize=FS, handlelength=1.6, handletextpad=0.45, borderpad=0.12,
               frameon=True, fancybox=True, edgecolor='#cccccc', framealpha=1.0)

fig.savefig('out.png', dpi=100)
